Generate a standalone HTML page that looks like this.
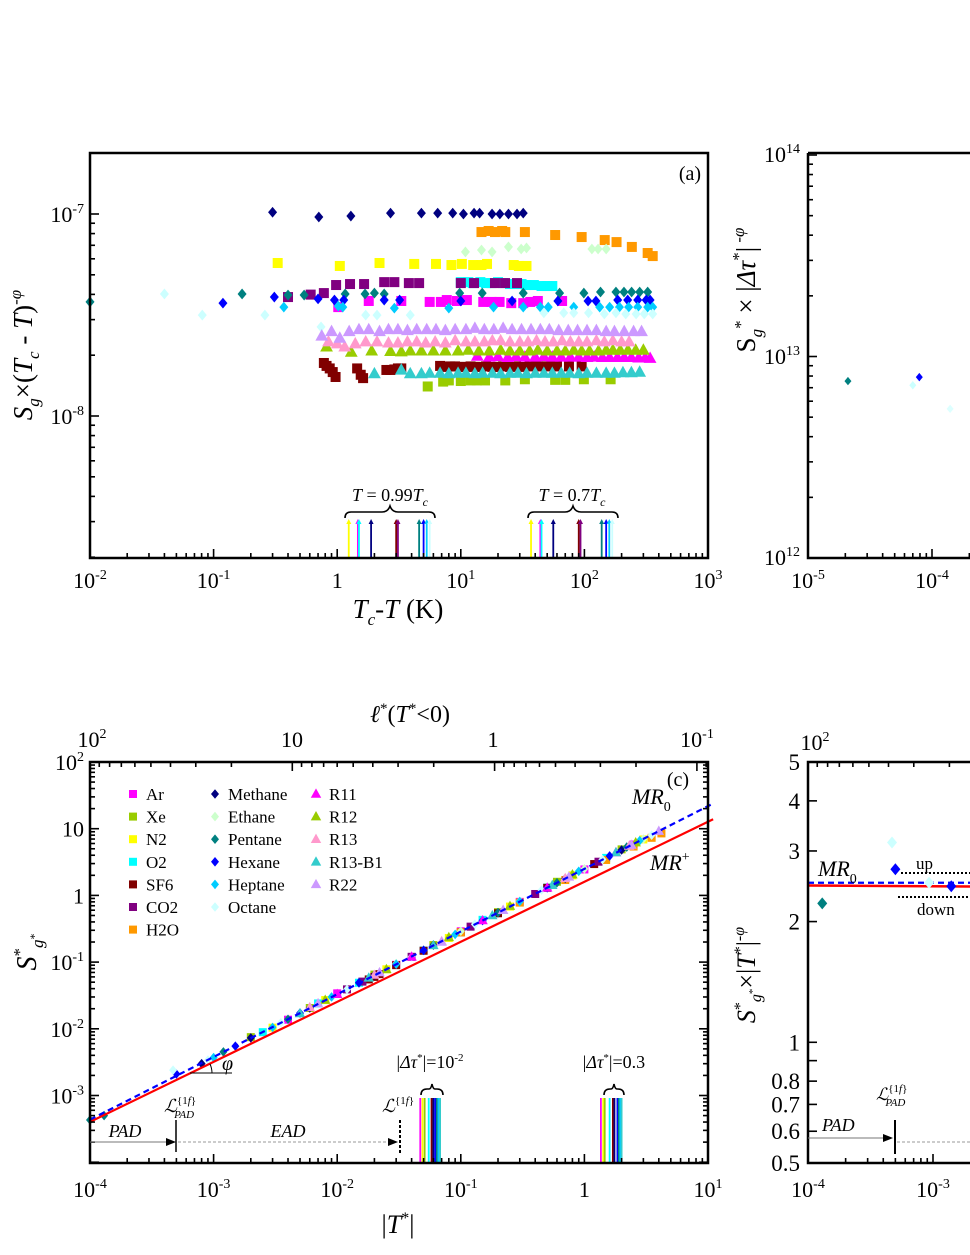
<!DOCTYPE html>
<html><head><meta charset="utf-8"><style>
html,body{margin:0;padding:0;background:#fff;}
svg{display:block;font-family:"Liberation Serif","DejaVu Serif",serif;}
</style></head><body>
<svg id="fig" width="970" height="1255" viewBox="0 0 970 1255" xmlns="http://www.w3.org/2000/svg">
<rect x="0" y="0" width="970" height="1255" fill="#fff"/>
<g id="pa"></g>
<g id="pb"></g>
<g id="pc"></g>
<g id="pd"></g>

<text x="690" y="180" font-size="20" text-anchor="middle">(a)</text>
<text transform="translate(32,355) rotate(-90)" font-size="27" text-anchor="middle"><tspan font-style="italic">S</tspan><tspan font-size="17" font-style="italic" dy="7">g</tspan><tspan dy="-7">×(</tspan><tspan font-style="italic">T</tspan><tspan font-size="17" font-style="italic" dy="7">c</tspan><tspan dy="-7"> - </tspan><tspan font-style="italic">T</tspan><tspan>)</tspan><tspan font-size="17" dy="-11">-</tspan><tspan font-size="17" font-style="italic">φ</tspan></text>
<text x="398" y="618" font-size="27" text-anchor="middle"><tspan font-style="italic">T</tspan><tspan font-size="17" font-style="italic" dy="7">c</tspan><tspan dy="-7">-</tspan><tspan font-style="italic">T</tspan><tspan> (K)</tspan></text>
<text x="390" y="501" font-size="18" text-anchor="middle"><tspan font-style="italic">T</tspan> = 0.99<tspan font-style="italic">T</tspan><tspan font-size="12" font-style="italic" dy="5">c</tspan></text>
<text x="572" y="501" font-size="18" text-anchor="middle"><tspan font-style="italic">T</tspan> = 0.7<tspan font-style="italic">T</tspan><tspan font-size="12" font-style="italic" dy="5">c</tspan></text>
<path d="M345,518 q0,-6 6,-6 h31 q6,0 8,-6 q2,6 8,6 h31 q6,0 6,6" fill="none" stroke="#000" stroke-width="1.6"/>
<path d="M528,518 q0,-6 6,-6 h31 q6,0 8,-6 q2,6 8,6 h31 q6,0 6,6" fill="none" stroke="#000" stroke-width="1.6"/>

<text transform="translate(755,290) rotate(-90)" font-size="27" text-anchor="middle"><tspan>S</tspan><tspan font-size="17" dy="7" font-style="italic">g</tspan><tspan font-size="17" dy="-16">*</tspan><tspan dy="9"> × |</tspan><tspan font-style="italic">Δτ</tspan><tspan font-size="17" dy="-11">*</tspan><tspan dy="11">|</tspan><tspan font-size="17" dy="-11"> -</tspan><tspan font-size="17" font-style="italic">φ</tspan></text>

<text x="678" y="786" font-size="20" text-anchor="middle">(c)</text>
<text x="410" y="722" font-size="24" text-anchor="middle"><tspan font-style="italic">ℓ</tspan><tspan font-size="15" dy="-9">*</tspan><tspan dy="9">(</tspan><tspan font-style="italic">T</tspan><tspan font-size="15" dy="-9">*</tspan><tspan dy="9">&lt;0)</tspan></text>
<text x="398" y="1233" font-size="26" text-anchor="middle">|<tspan font-style="italic">T</tspan><tspan font-size="16" dy="-10">*</tspan><tspan dy="10">|</tspan></text>
<text transform="translate(36,952) rotate(-90)" font-size="28" text-anchor="middle"><tspan font-style="italic">S</tspan><tspan font-size="17" dy="-11">*</tspan><tspan font-size="17" font-style="italic" dy="18">g</tspan><tspan font-size="12" dy="-5">*</tspan></text>
<text x="632" y="804" font-size="22" font-style="italic">MR<tspan font-size="14" font-style="normal" dy="7">0</tspan></text>
<text x="650" y="870" font-size="22" font-style="italic">MR<tspan font-size="14" font-style="normal" dy="-9">+</tspan></text>
<text x="430" y="1068" font-size="18" text-anchor="middle">|<tspan font-style="italic">Δτ</tspan><tspan font-size="11" dy="-7">*</tspan><tspan dy="7">|=10</tspan><tspan font-size="11" dy="-7">-2</tspan></text>
<text x="614" y="1068" font-size="18" text-anchor="middle">|<tspan font-style="italic">Δτ</tspan><tspan font-size="11" dy="-7">*</tspan><tspan dy="7">|=0.3</tspan></text>
<path d="M421,1095 q0,-6 6,-6 h2 q2,0 3,-5 q1,5 3,5 h2 q6,0 6,6" fill="none" stroke="#000" stroke-width="1.6"/>
<path d="M604,1095 q0,-6 6,-6 h1 q2,0 3,-5 q1,5 3,5 h1 q6,0 6,6" fill="none" stroke="#000" stroke-width="1.6"/>
<text x="125" y="1137" font-size="18" font-style="italic" text-anchor="middle">PAD</text>
<text x="288" y="1137" font-size="18" font-style="italic" text-anchor="middle">EAD</text>
<line x1="90" y1="1142" x2="172" y2="1142" stroke="#777" stroke-width="1"/>
<polygon points="176,1142 166,1138 166,1146" fill="#000"/>
<line x1="176" y1="1120" x2="176" y2="1152" stroke="#000" stroke-width="1.5"/>
<line x1="178" y1="1142" x2="392" y2="1142" stroke="#999" stroke-width="1" stroke-dasharray="3,2"/>
<polygon points="398,1142 388,1138 388,1146" fill="#000"/>
<line x1="400" y1="1120" x2="400" y2="1155" stroke="#000" stroke-width="2" stroke-dasharray="3,2"/>
<text x="164" y="1112" font-size="18"><tspan font-style="italic">ℒ</tspan><tspan font-size="11" dy="-8">{1<tspan font-style="italic">f</tspan>}</tspan><tspan font-size="11" font-style="italic" dx="-22" dy="14">PAD</tspan></text>
<text x="382" y="1112" font-size="18"><tspan font-style="italic">ℒ</tspan><tspan font-size="11" dy="-8">{1<tspan font-style="italic">f</tspan>}</tspan></text>
<line x1="190" y1="1073" x2="232" y2="1073" stroke="#000" stroke-width="1"/>
<path d="M212,1073 A22,22 0 0 0 210,1064" fill="none" stroke="#000" stroke-width="1"/>
<text x="222" y="1070" font-size="20" font-style="italic">φ</text>

<text transform="translate(755,975) rotate(-90)" font-size="26" text-anchor="middle"><tspan font-style="italic">S</tspan><tspan font-size="16" dy="-10">*</tspan><tspan font-size="16" font-style="italic" dy="16">g</tspan><tspan font-size="11" dy="-5">*</tspan><tspan dy="-1">×|</tspan><tspan font-style="italic">T</tspan><tspan font-size="16" dy="-10">*</tspan><tspan dy="10">|</tspan><tspan font-size="16" dy="-11">-</tspan><tspan font-size="16" font-style="italic">φ</tspan></text>
<text x="818" y="876" font-size="22" font-style="italic">MR<tspan font-size="14" font-style="normal" dy="7">0</tspan></text>
<text x="916" y="869" font-size="17">up</text>
<text x="917" y="915" font-size="17">down</text>
<line x1="901" y1="873" x2="970" y2="873" stroke="#000" stroke-width="2" stroke-dasharray="2,2"/>
<line x1="898" y1="897" x2="970" y2="897" stroke="#000" stroke-width="2" stroke-dasharray="2,2"/>
<text x="822" y="1131" font-size="18" font-style="italic">PAD</text>
<line x1="808" y1="1138" x2="888" y2="1138" stroke="#777" stroke-width="1"/>
<polygon points="893,1138 883,1134 883,1142" fill="#000"/>
<line x1="895" y1="1120" x2="895" y2="1154" stroke="#000" stroke-width="2"/>
<line x1="897" y1="1142" x2="970" y2="1142" stroke="#999" stroke-width="1" stroke-dasharray="3,2"/>
<text x="876" y="1100" font-size="17"><tspan font-style="italic">ℒ</tspan><tspan font-size="11" dy="-8">{1<tspan font-style="italic">f</tspan>}</tspan><tspan font-size="11" font-style="italic" dx="-22" dy="14">PAD</tspan></text>
</svg>
<script>
const NS='http://www.w3.org/2000/svg';
const a_ar_x=[1.02,1.8,3.3,5.6,6.9,7.7,9.3,11.2,15.2,17.7,20.6,25.6,32,36.5,42,66];
const a_ar_y=[3.46,3.71,3.71,3.67,3.67,3.75,3.71,3.75,3.67,3.67,3.67,3.62,3.62,3.67,3.71,3.71];
const a_xe_x=[5.4,7.2,8.0,10,12,13.5,15.7,22.9,33,58,70,99,163];
const a_xe_y=[1.40,1.48,1.50,1.49,1.50,1.50,1.50,1.50,1.52,1.51,1.51,1.52,1.52];
const a_n2_x=[0.33,1.05,2.2,4.2,6.3,8.4,10.2,12.6,14.7,16.3,26.8,29.5,34];
const a_n2_y=[5.72,5.53,5.72,5.66,5.66,5.59,5.66,5.59,5.59,5.66,5.59,5.53,5.53];
const a_o2_x=[10,11.5,12.5,14.4,16,17.7,20,22,25,27,31,34,39,45,50,55];
const a_o2_y=[4.6,4.6,4.55,4.6,4.55,4.55,4.6,4.55,4.5,4.5,4.5,4.45,4.45,4.4,4.4,4.4];
const a_sf6_x=[0.78,0.82,0.87,0.92,0.97,1.45,1.55,1.62,2.5,2.7,2.9,3.1,3.3,6.8,7.5,8.2,9,10,11,12,13,14.5,16,18,20,22,25,28,32,36,42,50,60,75,95];
const a_sf6_y=[1.83,1.77,1.72,1.65,1.56,1.72,1.60,1.54,1.69,1.69,1.70,1.72,1.72,1.77,1.75,1.76,1.76,1.75,1.75,1.76,1.75,1.75,1.76,1.75,1.75,1.76,1.75,1.76,1.75,1.76,1.76,1.76,1.76,1.76,1.76];
const a_co2_x=[0.40,0.61,0.78,0.98,1.27,1.65,2.4,2.9,3.8,4.6,10,12.8,18.9,22.8,28.5];
const a_co2_y=[3.88,3.99,4.06,4.45,4.5,4.5,4.6,4.6,4.55,4.55,4.55,4.55,4.55,4.55,4.55];
const a_h2o_x=[14.7,16.8,18.9,21.6,22.9,33,58,95,146,182,242,325,357];
const a_h2o_y=[8.14,8.24,8.14,8.24,8.14,8.14,7.87,7.69,7.43,7.26,6.87,6.41,6.19];
const a_methane_x=[0.30,0.71,1.29,2.7,4.8,6.5,8.6,10.5,12.8,14.2,17.9,20.7,24.3,28.5,32];
const a_methane_y=[10.2,9.66,9.77,10.1,10.1,10.1,10.1,10.0,10.1,10.1,10.0,10.0,10.0,10.0,10.1];
const a_ethane_x=[10.9,14.7,17.9,24.3,30.8,34,115,129,150];
const a_ethane_y=[6.49,6.63,6.49,6.87,6.71,6.79,6.71,6.71,6.71];
const a_pentane_x=[0.01,0.17,0.40,0.54,1.16,1.68,2.0,2.4,9.8,14.9,32,63,99,135,180,209,241,280,325];
const a_pentane_y=[3.67,4.02,3.97,3.97,4.02,4.02,4.06,4.02,4.06,4.06,4.06,4.06,4.06,4.11,4.11,4.11,4.11,4.11,4.11];
const a_hexane_x=[0.119,0.31,0.70,0.95,1.13,2.4,3.2,10,26,61,107,124,186,224,270,316,340];
const a_hexane_y=[3.62,3.88,3.80,3.75,3.75,3.75,3.75,3.71,3.71,3.71,3.71,3.71,3.75,3.75,3.75,3.75,3.75];
const a_heptane_x=[0.37,1.02,1.11,2.9,8.0,18.4,32,44,51,82,133,160,192,228,270,325,357];
const a_heptane_y=[3.46,3.50,3.46,3.42,3.42,3.46,3.46,3.46,3.46,3.46,3.46,3.46,3.46,3.46,3.46,3.46,3.46];
const a_octane_x=[0.04,0.081,0.26,0.74,1.7,2.1,3.9,47,68,82,108,145,180,216,262,305,357];
const a_octane_y=[4.02,3.16,3.16,2.76,3.16,3.16,3.16,3.24,3.24,3.24,3.24,3.2,3.24,3.2,3.2,3.2,3.2];
const a_r11_x=[13.6,17,20,24,28,33,40,47,55,65,77,90,105,120,140,160,185,210,240,275,310,340];
const a_r11_y=[1.98,1.96,1.97,1.95,1.97,1.96,1.96,1.97,1.96,1.96,1.96,1.96,1.95,1.96,1.95,1.95,1.95,1.95,1.95,1.94,1.94,1.93];
const a_r12_x=[0.82,1.3,1.9,2.7,3.3,3.9,4.8,6.0,7.5,9.5,11.5,14,17,21,25,30,36,42,50,60,70,82,95,110,130,150,170,195,225,260,300];
const a_r12_y=[2.2,2.07,2.1,2.09,2.08,2.1,2.1,2.1,2.1,2.1,2.12,2.1,2.1,2.12,2.1,2.1,2.1,2.12,2.1,2.1,2.1,2.12,2.1,2.1,2.1,2.12,2.12,2.12,2.12,2.12,2.12];
const a_r13_x=[0.85,1.0,1.15,1.4,1.7,2.1,2.6,3.1,3.7,4.4,5.2,6.2,7.5,9,11,13,15.5,18,21,25,30,35,41,48,56,66,77,90,105,125,145,170,200,230];
const a_r13_y=[2.33,2.28,2.2,2.28,2.33,2.33,2.3,2.3,2.33,2.33,2.3,2.33,2.3,2.36,2.33,2.33,2.33,2.36,2.36,2.33,2.33,2.33,2.36,2.33,2.33,2.36,2.33,2.33,2.33,2.36,2.33,2.36,2.33,2.33];
const a_r13b1_x=[2.0,3.3,3.9,4.8,5.6,6.8,8,9.5,11,13,15,18,21,25,29,34,40,47,55,65,76,90,105,125,150,175,205,240,280];
const a_r13b1_y=[1.62,1.69,1.62,1.62,1.63,1.63,1.62,1.63,1.63,1.62,1.63,1.63,1.62,1.63,1.63,1.62,1.63,1.63,1.63,1.63,1.63,1.62,1.63,1.63,1.63,1.63,1.64,1.64,1.65];
const a_r22_x=[0.75,0.9,1.05,1.25,1.5,1.8,2.2,2.6,3.1,3.7,4.4,5.3,6.3,7.5,9,11,13,15.5,18.5,22,26,31,37,44,52,62,74,88,105,125,150,175,210,250,290];
const a_r22_y=[2.49,2.62,2.43,2.62,2.68,2.68,2.62,2.68,2.68,2.65,2.68,2.68,2.68,2.65,2.68,2.68,2.72,2.68,2.68,2.72,2.68,2.68,2.68,2.68,2.68,2.65,2.65,2.65,2.65,2.65,2.62,2.62,2.62,2.62,2.62];
const a_ref99_x=[1.24,1.47,1.5,1.88,3.0,3.1,4.6,5.0,5.3,5.6];
const a_ref70_x=[37,44,45,56,90,93,138,150,159,168];
const a_ref_colors=['#ffff00','#ff00ff','#00ffff','#000080','#800000','#800080','#008080','#0000ff','#00ccff','#ccffff'];
const b_x=[2.1e-5,7.9e-5,7.0e-5,1.4e-4];
const b_y=[7.55e12,7.9e12,7.2e12,5.5e12];
const b_colors=['#008080','#0000ff','#ccffff','#ddffff'];
const c_ar_x=[0.004,0.01,0.03,0.1,0.3,1,2.5]; const c_ar_y=[0.0137,0.034,0.091,0.29,0.80,2.45,5.8];
const c_xe_x=[0.002,0.006,0.02,0.06,0.2,0.6,2]; const c_xe_y=[0.0075,0.0205,0.065,0.18,0.56,1.6,4.9];
const c_n2_x=[0.003,0.008,0.025,0.08,0.25,0.8,3]; const c_n2_y=[0.0104,0.027,0.078,0.23,0.68,2.0,6.9];
const c_o2_x=[0.0025,0.007,0.015,0.05,0.15,0.5,1.5]; const c_o2_y=[0.0089,0.024,0.049,0.149,0.43,1.31,3.65];
const c_sf6_x=[0.018,0.02,0.022,0.03,0.05,0.1,0.2,0.5,1.2]; const c_sf6_y=[0.055,0.06,0.066,0.09,0.148,0.28,0.54,1.3,2.95];
const c_co2_x=[0.012,0.016,0.04,0.12,0.4,1.3]; const c_co2_y=[0.039,0.051,0.12,0.34,1.05,3.2];
const c_h2o_x=[0.1,0.3,0.7,1.5,2.5,3.5,4.2]; const c_h2o_y=[0.28,0.78,1.7,3.4,5.4,7.3,8.5];
const c_methane_x=[0.0008,0.002,0.006,0.02,0.06,0.2,0.7,2]; const c_methane_y=[0.003,0.0073,0.0205,0.064,0.18,0.55,1.8,4.8];
const c_ethane_x=[0.03,0.1,0.3,1,3]; const c_ethane_y=[0.095,0.29,0.82,2.5,7.0];
const c_pentane_x=[0.0001,0.00013,0.0012,0.004,0.015,0.05,0.2,0.6,2.2]; const c_pentane_y=[0.00043,0.0005,0.0045,0.0139,0.049,0.15,0.55,1.55,5.3];
const c_hexane_x=[0.0005,0.0015,0.005,0.015,0.05,0.15,0.5,1.6]; const c_hexane_y=[0.0021,0.0055,0.0172,0.049,0.15,0.42,1.3,3.9];
const c_heptane_x=[0.001,0.003,0.009,0.03,0.09,0.3,0.9,2.8]; const c_heptane_y=[0.0037,0.0105,0.03,0.093,0.26,0.81,2.3,6.6];
const c_octane_x=[0.00047,0.0009,0.0035,0.012,0.04,0.13,0.45,1.4,3.5]; const c_octane_y=[0.0024,0.0034,0.0123,0.039,0.12,0.37,1.2,3.45,8.0];
const c_r11_x=[0.01,0.04,0.15,0.5,1.8]; const c_r11_y=[0.033,0.12,0.42,1.3,4.4];
const c_r12_x=[0.008,0.025,0.08,0.25,0.8,2.6]; const c_r12_y=[0.027,0.078,0.235,0.69,2.05,6.2];
const c_r13_x=[0.006,0.02,0.07,0.22,0.7,2.3]; const c_r13_y=[0.021,0.064,0.205,0.6,1.8,5.5];
const c_r13b1_x=[0.005,0.018,0.06,0.18,0.55,1.8]; const c_r13b1_y=[0.017,0.058,0.178,0.5,1.42,4.4];
const c_r22_x=[0.007,0.022,0.07,0.22,0.75,2.4,4]; const c_r22_y=[0.024,0.07,0.2,0.6,1.9,5.7,9.2];
const c_mrplus=[1.6,0.90];
const c_mr0=[2.5,0.94];
const c_ref1_x=[0.047,0.049,0.051,0.055,0.058,0.06,0.062,0.064,0.066,0.068];
const c_ref2_x=[1.36,1.42,1.46,1.6,1.7,1.75,1.85,1.9,1.95,2.0];
const c_ref_colors=['#ff00ff','#ffff00','#99cc00','#00ffff','#800000','#000080','#0000ff','#008080','#00ccff','#33cccc'];
const d_x=[1.3e-4,4.7e-4,5.0e-4,9.3e-4,1.4e-3];
const d_y=[2.22,3.15,2.7,2.5,2.45];
const d_colors=['#008080','#ccffff','#0000ff','#ccffff','#0000ff'];
const d_shapes=['d','d','d','d','d'];
const d_mrplus=2.46;
const d_mr0=2.5;

const fluidNames=['Ar','Xe','N2','O2','SF6','CO2','H2O','Methane','Ethane','Pentane','Hexane','Heptane','Octane','R11','R12','R13','R13-B1','R22'];
const fluidShapes=['s','s','s','s','s','s','s','d','d','d','d','d','d','t','t','t','t','t'];
const fluidColors=['#ff00ff','#99cc00','#ffff00','#00ffff','#800000','#800080','#ff9900','#000080','#ccffcc','#008080','#0000ff','#00ccff','#ccffff','#ff00ff','#99cc00','#ff99cc','#33cccc','#cc99ff'];
const aSeries=[[a_ar_x,a_ar_y],[a_xe_x,a_xe_y],[a_n2_x,a_n2_y],[a_o2_x,a_o2_y],[a_sf6_x,a_sf6_y],[a_co2_x,a_co2_y],[a_h2o_x,a_h2o_y],[a_methane_x,a_methane_y],[a_ethane_x,a_ethane_y],[a_pentane_x,a_pentane_y],[a_hexane_x,a_hexane_y],[a_heptane_x,a_heptane_y],[a_octane_x,a_octane_y],[a_r11_x,a_r11_y],[a_r12_x,a_r12_y],[a_r13_x,a_r13_y],[a_r13b1_x,a_r13b1_y],[a_r22_x,a_r22_y]];
const cSeries=[[c_ar_x,c_ar_y],[c_xe_x,c_xe_y],[c_n2_x,c_n2_y],[c_o2_x,c_o2_y],[c_sf6_x,c_sf6_y],[c_co2_x,c_co2_y],[c_h2o_x,c_h2o_y],[c_methane_x,c_methane_y],[c_ethane_x,c_ethane_y],[c_pentane_x,c_pentane_y],[c_hexane_x,c_hexane_y],[c_heptane_x,c_heptane_y],[c_octane_x,c_octane_y],[c_r11_x,c_r11_y],[c_r12_x,c_r12_y],[c_r13_x,c_r13_y],[c_r13b1_x,c_r13b1_y],[c_r22_x,c_r22_y]];

const L=Math.log10;
function mk(tag,parent){const e=document.createElementNS(NS,tag);parent.appendChild(e);return e;}
function at(e,o){for(const k in o)e.setAttribute(k,o[k]);return e;}
function marker(parent,shape,x,y,color,s,name){
  let e;
  if(shape==='s'){e=mk('rect',parent);at(e,{x:x-s/2,y:y-s/2,width:s,height:s,fill:color});}
  else if(shape==='d'){e=mk('polygon',parent);at(e,{points:`${x},${y-s*0.6} ${x+s*0.5},${y} ${x},${y+s*0.6} ${x-s*0.5},${y}`,fill:color});}
  else{e=mk('polygon',parent);at(e,{points:`${x},${y-s*0.62} ${x+s*0.58},${y+s*0.42} ${x-s*0.58},${y+s*0.42}`,fill:color});}
  
  
  return e;
}
function tline(parent,x1,y1,x2,y2,w,name){
  const e=mk('line',parent);at(e,{x1:x1,y1:y1,x2:x2,y2:y2,stroke:'#000','stroke-width':w});
  
  
  return e;
}
function label(parent,x,y,base,exp,anchor,name,size){
  const t=mk('text',parent);at(t,{x:x,y:y,'font-size':size||22,'text-anchor':anchor});
  
  
  t.textContent=base;
  if(exp!==null&&exp!==undefined){const s=mk('tspan',t);at(s,{'font-size':14,dy:-9});s.textContent=exp;}
  return t;
}
function box(parent,x,y,w,h,name){
  const r=mk('rect',parent);at(r,{x:x,y:y,width:w,height:h,fill:'none',stroke:'#000','stroke-width':2.5});
  
  
}
function logTicksX(parent,X,lo,hi,yb,dir,name,xmax){
  for(let d=lo;d<hi+1;d++){for(let k=1;k<10;k++){const v=k*Math.pow(10,d);if(L(v)>hi+1e-9)break;const px=X(v);if(xmax&&px>xmax)continue;tline(parent,px,yb,px,yb+dir*(k===1?9:5),1.6,name);}}
}
function logTicksY(parent,Y,lo,hi,xl,dir,name){
  for(let d=Math.floor(lo);d<=hi;d++){for(let k=1;k<10;k++){const v=k*Math.pow(10,d);if(L(v)<lo-1e-9||L(v)>hi+1e-9)continue;const py=Y(v);tline(parent,xl,py,xl+dir*(k===1?9:5),py,1.6,name);}}
}

(function(){
  const g=document.getElementById('pa');
  const X=v=>90+(L(v)+2)*123.6;
  const Y=v=>214+(-7-L(v*1e-8))*202;
  const gm=mk('g',g);
  
  
  aSeries.forEach((s,i)=>{
    const gs=mk('g',gm);
    
    
    const sz=fluidShapes[i]==='t'?11:(fluidShapes[i]==='s'?10:9);
    s[0].forEach((xv,j)=>{marker(gs,fluidShapes[i],X(xv),Y(s[1][j]),fluidColors[i],sz,'point-a-'+fluidNames[i].toLowerCase());});
  });
  const gr=mk('g',g);
  
  
  [a_ref99_x,a_ref70_x].forEach(arr=>arr.forEach((xv,i)=>{
    const px=X(xv);
    const l=mk('line',gr);at(l,{x1:px,y1:558,x2:px,y2:523,stroke:a_ref_colors[i],'stroke-width':1.8});
    
    
    const h=mk('polygon',gr);at(h,{points:`${px},${519} ${px+2.5},${524} ${px-2.5},${524}`,fill:a_ref_colors[i]});
    
    
  }));
  box(g,90,153,618,405,'panel-a-plot-area');
  logTicksX(g,X,-2,3,558,-1,'panel-a-x-tick');
  logTicksY(g,v=>214+(-7-L(v))*202,-8.7,-6.7,90,1,'panel-a-y-tick');
  const xl=['10','10','1','10','10','10'],xe=['-2','-1',null,'1','2','3'];
  for(let d=-2;d<=3;d++){label(g,X(Math.pow(10,d)),588,xl[d+2],xe[d+2],'middle','panel-a-x-tick-label');}
  label(g,84,222,'10','-7','end','panel-a-y-tick-label');
  label(g,84,424,'10','-8','end','panel-a-y-tick-label');
})();

(function(){
  const g=document.getElementById('pb');
  const X=v=>808+(L(v)+5)*124;
  const Y=v=>155+(14-L(v))*201.5;
  b_x.forEach((xv,i)=>{marker(g,'d',X(xv),Y(b_y[i]),b_colors[i],7,'point-b');});
  const r=mk('path',g);at(r,{d:'M808,153 H972 M808,153 V558 H972',fill:'none',stroke:'#000','stroke-width':2.5});
  
  
  logTicksX(g,X,-5,-3,558,-1,'panel-b-x-tick',972);
  logTicksY(g,Y,12,14,808,1,'panel-b-y-tick');
  label(g,800,162,'10','14','end','panel-b-y-tick-label');
  label(g,800,364,'10','13','end','panel-b-y-tick-label');
  label(g,800,565,'10','12','end','panel-b-y-tick-label');
  label(g,808,588,'10','-5','middle','panel-b-x-tick-label');
  label(g,932,588,'10','-4','middle','panel-b-x-tick-label');
})();

(function(){
  const g=document.getElementById('pc');
  const X=v=>90+(L(v)+4)*123.6;
  const Y=v=>762+(2-L(v))*66.7;
  const gm=mk('g',g);
  
  
  cSeries.forEach((s,i)=>{
    const gs=mk('g',gm);
    
    
    s[0].forEach((xv,j)=>{marker(gs,fluidShapes[i],X(xv),Y(s[1][j]),fluidColors[i],fluidShapes[i]==='t'?9:8,'point-c-'+fluidNames[i].toLowerCase());});
  });
  const lr=mk('line',g);at(lr,{x1:X(1e-4),y1:Y(c_mrplus[0]*Math.pow(1e-4,c_mrplus[1])),x2:X(11),y2:Y(c_mrplus[0]*Math.pow(11,c_mrplus[1])),stroke:'#ff0000','stroke-width':2.2});
  
  
  const lb=mk('line',g);at(lb,{x1:X(1e-4),y1:Y(c_mr0[0]*Math.pow(1e-4,c_mr0[1])),x2:X(11),y2:Y(c_mr0[0]*Math.pow(11,c_mr0[1])),stroke:'#0000ff','stroke-width':2.2,'stroke-dasharray':'6,4'});
  
  
  [c_ref1_x,c_ref2_x].forEach(arr=>arr.forEach((xv,i)=>{
    const px=X(xv);
    const l=mk('line',g);at(l,{x1:px,y1:1163,x2:px,y2:1098,stroke:c_ref_colors[i],'stroke-width':1.8});
    
    
  }));
  const lg=mk('g',g);
  
  
  const cols=[130,212,313],per=[7,6,5];
  let idx=0;
  for(let c=0;c<3;c++){for(let r=0;r<per[c];r++){
    const yy=794+r*22.6;
    const ge=mk('g',lg);
    
    
    marker(ge,fluidShapes[idx],cols[c]+3,yy,fluidColors[idx],fluidShapes[idx]==='t'?9:8,'legend-marker');
    const t=mk('text',ge);at(t,{x:cols[c]+16,y:yy+6,'font-size':17});
    
    
    t.textContent=fluidNames[idx];
    idx++;
  }}
  box(g,90,762,618,401,'panel-c-plot-area');
  logTicksX(g,X,-4,1,1163,-1,'panel-c-x-tick',708);
  logTicksY(g,Y,-4,2,90,1,'panel-c-y-tick');
  logTicksY(g,Y,-4,2,708,-1,'panel-c-right-tick');
  const XT=v=>90+(2-L(v))*202.3;
  for(let d=-2;d<2;d++){for(let k=1;k<10;k++){const v=k*Math.pow(10,d);const px=XT(v);if(px<90||px>708)continue;tline(g,px,762,px,762+(k===1?9:5),1.6,'panel-c-top-tick');}}
  tline(g,XT(100),762,XT(100),771,1.6,'panel-c-top-tick');
  label(g,92,747,'10','2','middle','panel-c-top-tick-label');
  label(g,292,747,'10',null,'middle','panel-c-top-tick-label');
  label(g,493,747,'1',null,'middle','panel-c-top-tick-label');
  label(g,697,747,'10','-1','middle','panel-c-top-tick-label');
  const bl=['10','10','10','10','1','10'],be=['-4','-3','-2','-1',null,'1'];
  for(let d=-4;d<=1;d++){label(g,X(Math.pow(10,d)),1197,bl[d+4],be[d+4],'middle','panel-c-x-tick-label');}
  const yl=['10','10','1','10','10','10'],ye=['2',null,null,'-1','-2','-3'];
  for(let d=2;d>=-3;d--){label(g,84,Y(Math.pow(10,d))+8,yl[2-d],ye[2-d],'end','panel-c-y-tick-label');}
})();

(function(){
  const g=document.getElementById('pd');
  const X=v=>808+(L(v)+4)*125;
  const Y=v=>1163-L(v/0.5)*401;
  const lr=mk('line',g);at(lr,{x1:808,y1:Y(d_mrplus),x2:972,y2:Y(d_mrplus)+1,stroke:'#ff0000','stroke-width':2.5});
  
  
  const lb=mk('line',g);at(lb,{x1:808,y1:Y(d_mr0),x2:972,y2:Y(d_mr0),stroke:'#0000ff','stroke-width':2.2,'stroke-dasharray':'6,4'});
  
  
  d_x.forEach((xv,i)=>{marker(g,d_shapes[i],X(xv),Y(d_y[i]),d_colors[i],10,'point-d');});
  const r=mk('path',g);at(r,{d:'M972,762 H808 V1163 H972',fill:'none',stroke:'#000','stroke-width':2.5});
  
  
  logTicksX(g,X,-4,-3,1163,-1,'panel-d-x-tick',972);
  const XT=v=>808+(2-L(v))*202.3;
  for(let k=2;k<10;k++){const px=XT(k*10);if(px<972)tline(g,px,762,px,767,1.6,'panel-d-top-tick');}
  const yv=[5,4,3,2,1,0.9,0.8,0.7,0.6,0.5];
  yv.forEach(v=>{tline(g,808,Y(v),817,Y(v),1.6,'panel-d-y-tick');});
  const lab=['5','4','3','2','1','0.8','0.7','0.6','0.5'];
  const labv=[5,4,3,2,1,0.8,0.7,0.6,0.5];
  labv.forEach((v,i)=>{label(g,800,Y(v)+8,lab[i],null,'end','panel-d-y-tick-label',23);});
  label(g,808,1197,'10','-4','middle','panel-d-x-tick-label');
  label(g,933,1197,'10','-3','middle','panel-d-x-tick-label');
  label(g,815,750,'10','2','middle','panel-d-top-tick-label');
})();
</script>
</body></html>
